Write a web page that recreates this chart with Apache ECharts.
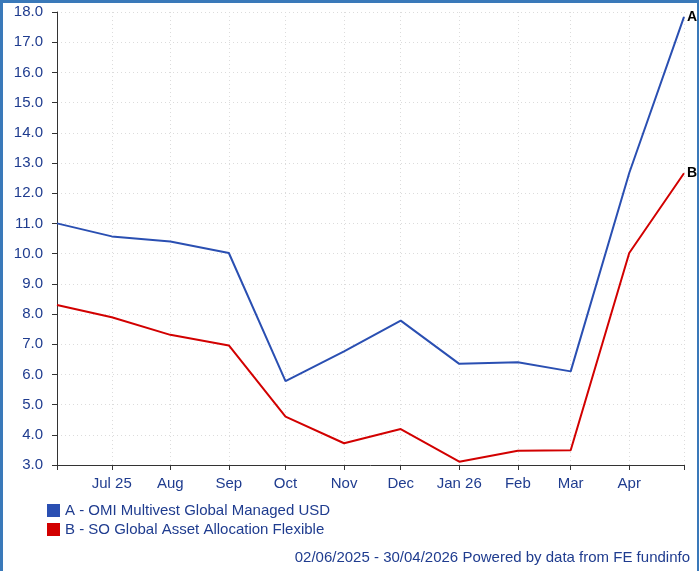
<!DOCTYPE html>
<html>
<head>
<meta charset="utf-8">
<script src="https://cdn.jsdelivr.net/npm/echarts@6/dist/echarts.min.js"></script>
<style>
html, body { margin: 0; padding: 0; background: #fff; }
#chart { width: 699px; height: 571px; }
</style>
</head>
<body>
<div id="chart"></div>
<script>
var dates = ['2025-06-02', '2025-07-01', '2025-08-01', '2025-09-01', '2025-10-01', '2025-11-01',
	'2025-12-01', '2026-01-01', '2026-02-01', '2026-03-01', '2026-04-01', '2026-04-30'];
var fundA = [11.0, 10.57, 10.4, 10.02, 5.78, 6.76, 7.78, 6.35, 6.4, 6.1, 12.67, 17.84];
var fundB = [8.3, 7.89, 7.31, 6.96, 4.6, 3.72, 4.19, 3.11, 3.47, 3.49, 10.02, 12.66];
var tickDates = ['2025-07-01', '2025-08-01', '2025-09-01', '2025-10-01', '2025-11-01',
	'2025-12-01', '2026-01-01', '2026-02-01', '2026-03-01', '2026-04-01'];
var tickLabels = ['Jul 25', 'Aug', 'Sep', 'Oct', 'Nov', 'Dec', 'Jan 26', 'Feb', 'Mar', 'Apr'];
var seriesNames = ['A - OMI Multivest Global Managed USD', 'B - SO Global Asset Allocation Flexible'];
var footer = '02/06/2025 - 30/04/2026 Powered by data from FE fundinfo';

// 日期转时间戳（按天）
function ts(s) {
	var p = s.split('-');
	return Date.UTC(+p[0], +p[1] - 1, +p[2]);
}

var minT = ts(dates[0]);
var maxT = ts(dates[dates.length - 1]);
var tickTs = tickDates.map(ts);
var labelColor = '#1f3c8f';
var font = 'Liberation Sans, Arial, sans-serif';

var chart = echarts.init(document.getElementById('chart'));
var option = {
	animation: false,
	color: ['#2a4fb2', '#d20000'],
	grid: {
		left: 57,
		right: 15,
		top: 12,
		bottom: 106
	},
	legend: {
		orient: 'vertical',
		left: 42,
		top: 498,
		icon: 'rect',
		itemWidth: 13,
		itemHeight: 13,
		itemGap: 4,
		textStyle: {
			color: labelColor,
			fontSize: 15,
			fontFamily: font
		},
		data: seriesNames
	},
	xAxis: {
		type: 'value',
		min: minT,
		max: maxT,
		axisLine: { lineStyle: { color: '#333', width: 1 } },
		axisTick: {
			show: true,
			length: 5,
			lineStyle: { color: '#333' },
			customValues: [minT].concat(tickTs, [maxT])
		},
		axisLabel: {
			color: labelColor,
			fontSize: 15,
			fontFamily: font,
			margin: 11,
			customValues: tickTs,
			formatter: function(val) {
				var i = tickTs.indexOf(val);
				return i >= 0 ? tickLabels[i] : '';
			}
		},
		splitLine: {
			show: true,
			lineStyle: { color: '#dcdcdc', type: [1, 3] }
		}
	},
	yAxis: {
		type: 'value',
		min: 3,
		max: 18,
		interval: 1,
		axisLine: { show: true, lineStyle: { color: '#333', width: 1 } },
		axisTick: { show: true, length: 5, lineStyle: { color: '#333' } },
		axisLabel: {
			color: labelColor,
			fontSize: 15,
			fontFamily: font,
			margin: 14,
			formatter: function(v) { return v.toFixed(1); }
		},
		splitLine: {
			show: true,
			lineStyle: { color: '#dcdcdc', type: [1, 3] }
		}
	},
	series: [{
		name: seriesNames[0],
		type: 'line',
		symbol: 'none',
		lineStyle: { width: 2 },
		data: dates.map(function(d, i) { return [ts(d), fundA[i]]; }),
		endLabel: {
			show: true,
			formatter: 'A',
			color: '#000',
			fontWeight: 'bold',
			fontSize: 14,
			fontFamily: font,
			distance: 3
		}
	}, {
		name: seriesNames[1],
		type: 'line',
		symbol: 'none',
		lineStyle: { width: 2 },
		data: dates.map(function(d, i) { return [ts(d), fundB[i]]; }),
		endLabel: {
			show: true,
			formatter: 'B',
			color: '#000',
			fontWeight: 'bold',
			fontSize: 14,
			fontFamily: font,
			distance: 3
		}
	}],
	graphic: [{
		type: 'text',
		right: 9,
		top: 550,
		style: {
			text: footer,
			fill: labelColor,
			fontSize: 15,
			fontFamily: font
		}
	}, {
		type: 'rect',
		left: 0, top: 0,
		shape: { width: 699, height: 3 },
		style: { fill: '#3a79b9' }
	}, {
		type: 'rect',
		left: 0, top: 0,
		shape: { width: 3, height: 571 },
		style: { fill: '#3a79b9' }
	}, {
		type: 'rect',
		left: 697, top: 0,
		shape: { width: 2, height: 571 },
		style: { fill: '#3a79b9' }
	}]
};
chart.setOption(option);

window.addEventListener('resize', function() {
	chart.resize();
});
</script>
</body>
</html>
